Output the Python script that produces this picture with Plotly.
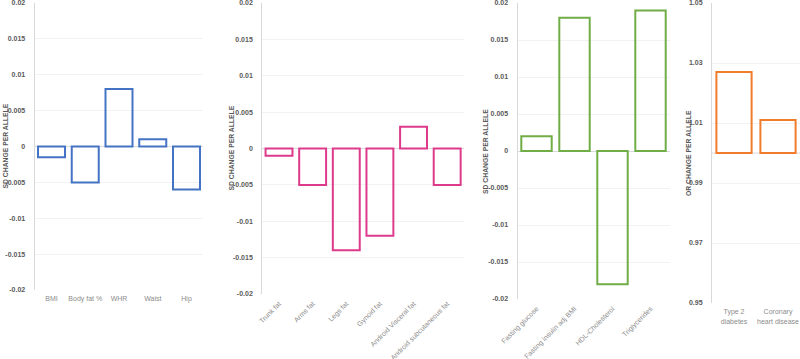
import plotly.graph_objects as go

# Panel 1: anthropometric traits
cat1 = ["BMI", "Body fat %", "WHR", "Waist", "Hip"]
val1 = [-0.0015, -0.005, 0.008, 0.001, -0.006]

# Panel 2: fat distribution
cat2 = ["Trunk fat", "Arms fat", "Legs fat", "Gynoid fat", "Android Visceral fat", "Android subcutaneous fat"]
val2 = [-0.001, -0.005, -0.014, -0.012, 0.003, -0.005]

# Panel 3: metabolic traits
cat3 = ["Fasting glucose", "Fasting insulin adj BMI", "HDL-Cholesterol", "Triglycerides"]
val3 = [0.002, 0.018, -0.018, 0.019]

# Panel 4: disease odds ratios
cat4 = ["Type 2<br>diabetes", "Coronary<br>heart disease"]
val4 = [1.027, 1.011]
or_base = 1.0

sd_ticks = [-0.02, -0.015, -0.01, -0.005, 0, 0.005, 0.01, 0.015, 0.02]
sd_ticktext = ["-0.02", "-0.015", "-0.01", "-0.005", "0", "0.005", "0.01", "0.015", "0.02"]
or_ticks = [0.95, 0.97, 0.99, 1.01, 1.03, 1.05]
or_ticktext = ["0.95", "0.97", "0.99", "1.01", "1.03", "1.05"]

colors = ["#4472C4", "#DD3A8B", "#70AD47", "#F07C2C"]

W, H = 800, 359
FONT = "Liberation Sans"

# domains in pixels
xdom_px = [(34.6, 203.4), (262.2, 464), (517.5, 669.5), (712, 800)]
ybot_px = [290, 294, 299, 303]
ytop_px = 3
title_x_px = [5, 231, 485, 688]

fig = go.Figure()

cats = [cat1, cat2, cat3, cat4]
vals = [val1, val2, val3, [v - or_base for v in val4]]
for i in range(4):
    kw = {}
    if i == 3:
        kw["base"] = [or_base] * len(val4)
    fig.add_trace(go.Bar(
        x=cats[i], y=vals[i],
        marker=dict(color="rgba(255,255,255,0)", line=dict(color=colors[i], width=2)),
        xaxis=f"x{i+1}" if i else "x", yaxis=f"y{i+1}" if i else "y",
        showlegend=False, hoverinfo="skip", **kw))

layout = dict(
    width=W, height=H, margin=dict(l=0, r=0, t=0, b=0, autoexpand=False),
    paper_bgcolor="white", plot_bgcolor="white", bargap=0.2,
    font=dict(family=FONT),
)
annotations = []
for i in range(4):
    sx = "" if i == 0 else str(i + 1)
    x0, x1 = xdom_px[i]
    yd = [(H - ybot_px[i]) / H, (H - ytop_px) / H]
    xa = dict(
        domain=[x0 / W, x1 / W], anchor=f"y{sx}", showgrid=False, zeroline=False,
        showline=False, ticks="outside", ticklen=2, tickcolor="rgba(0,0,0,0)",
        automargin=False, ticklabeloverflow="allow",
        tickfont=dict(family=FONT, size=7, color="#8C8C8C"),
        fixedrange=True,
    )
    if i in (1, 2):
        xa["tickangle"] = -45
    else:
        xa["tickangle"] = 0
    if i == 3:
        rng = [0.95, 1.05]
        tv, tt = or_ticks, or_ticktext
        zl = False
    else:
        rng = [-0.02, 0.02]
        tv, tt = sd_ticks, sd_ticktext
        zl = True
    ya = dict(
        domain=yd, anchor=f"x{sx}", range=rng, tickvals=tv, ticktext=tt,
        showgrid=True, gridcolor="#F2F2F2", gridwidth=1,
        zeroline=zl, zerolinecolor="#D9D9D9", zerolinewidth=1,
        showline=True, linecolor="#D9D9D9", linewidth=1,
        ticks="", ticklabelstandoff=7, automargin=False, ticklabeloverflow="allow",
        tickfont=dict(family=FONT, size=7, color="#595959", weight="bold"),
        fixedrange=True,
    )
    layout[f"xaxis{sx}"] = xa
    layout[f"yaxis{sx}"] = ya
    ttl = "OR CHANGE PER ALLELE" if i == 3 else "SD CHANGE PER ALLELE"
    annotations.append(dict(
        text=f"<b>{ttl}</b>", textangle=-90, xref="paper", yref="paper",
        x=title_x_px[i] / W, y=(yd[0] + yd[1]) / 2, xanchor="center", yanchor="middle",
        showarrow=False, font=dict(family=FONT, size=6.8, color="#595959"),
    ))

layout["annotations"] = annotations
layout["shapes"] = [dict(type="line", xref="x4 domain", yref="y4", x0=0, x1=1,
                         y0=or_base, y1=or_base, line=dict(color="#D9D9D9", width=1),
                         layer="below")]
fig.update_layout(**layout)
fig.write_html("out.html", config={"displayModeBar": False},
               post_script="document.body.style.margin='0';document.body.style.overflow='hidden';")
